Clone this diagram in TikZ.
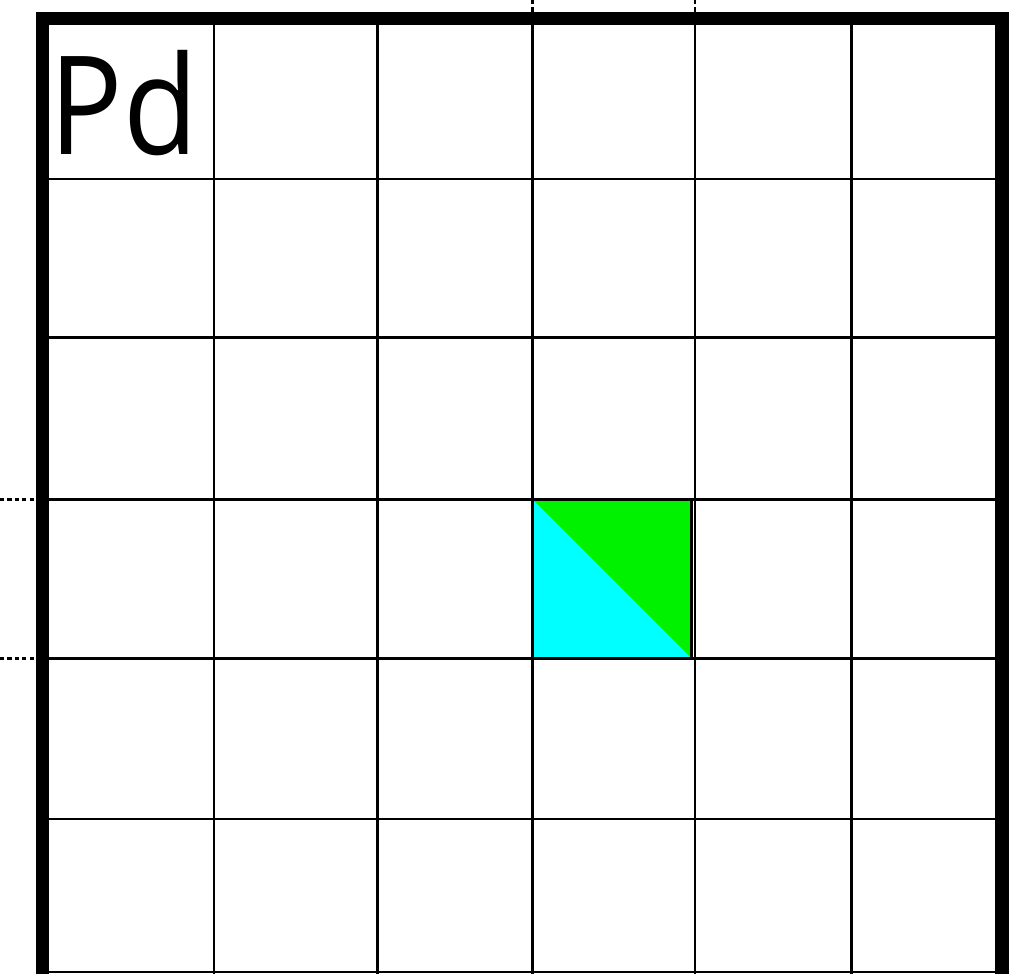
\documentclass[tikz,border=0pt]{standalone}
\usepackage{fontspec}
\setsansfont{Open Sans}
\usepackage{graphicx}
\usepackage{xcolor}
\definecolor{cellgreen}{RGB}{0,242,0}
\definecolor{cellcyan}{RGB}{0,255,255}

\begin{document}
\begin{tikzpicture}[x=0.01cm,y=-0.01cm,
  gridline/.style={black, line width=0.6pt},
  guideline/.style={black, line width=0.6pt, dash pattern=on 1.2pt off 0.9pt}]

\useasboundingbox (0,0) rectangle (1029,974);
\clip (0,0) rectangle (1029,974);

% Highlighted cell, split on its diagonal
\fill[cellcyan] (532.5,499.5) -- (691.5,658.5) -- (532.5,658.5) -- cycle;
\fill[cellgreen] (532.5,499.5) -- (691.5,499.5) -- (691.5,658.5) -- cycle;

% Grid lines
\foreach \x in {214,377.5,532.5,695,851.5}
  \draw[gridline] (\x,18.5) -- (\x,980);
\foreach \y in {179,337.5,499.5,658.5,819,972}
  \draw[gridline] (42.5,\y) -- (1002,\y);

% Outline of the cell
\draw[black, line width=0.9pt] (532.5,499.5) rectangle (691.5,658.5);

% Guides outside the frame
\draw[guideline] (532.5,0) -- (532.5,18.5);
\draw[guideline] (695,0) -- (695,18.5);
\draw[guideline] (0,499.5) -- (42.5,499.5);
\draw[guideline] (0,658.5) -- (42.5,658.5);

% Heavy frame
\draw[black, line width=3.7pt] (42.5,990) -- (42.5,18.5) -- (1002,18.5) -- (1002,990);

% Label
\node[font=\sffamily\fontsize{39}{39}\selectfont, anchor=base west, inner sep=0pt] (label) at (49,155) {\scalebox{0.89}[1]{Pd}};

\end{tikzpicture}
\end{document}
